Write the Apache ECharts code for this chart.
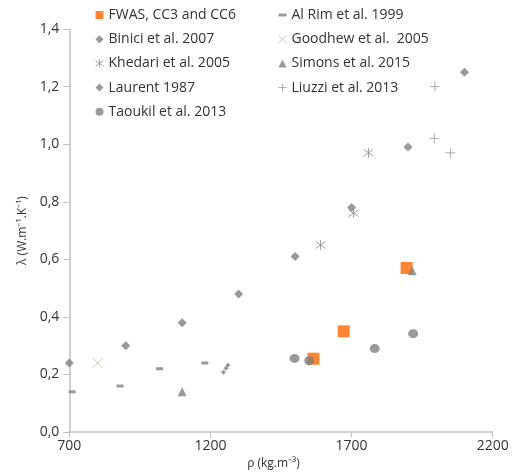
<!DOCTYPE html>
<html>
<head>
<meta charset="utf-8">
<script src="https://cdn.jsdelivr.net/npm/echarts@6/dist/echarts.min.js"></script>
<style>
  html, body { margin: 0; padding: 0; background: #fff; }
  #chart { width: 514px; height: 475px; }
</style>
</head>
<body>
<div id="chart"></div>
<script>
// density (kg/m3) vs thermal conductivity (W/m.K)
var fwas    = [[1565, 0.255], [1672, 0.35], [1895, 0.57]];
var alRim   = [[710, 0.14], [880, 0.16], [1020, 0.22], [1180, 0.24]];
var binici  = [[1262, 0.232], [1255, 0.222], [1246, 0.208]];
var goodhew = [[800, 0.24]];
var khedari = [[1590, 0.65], [1707, 0.76], [1760, 0.97]];
var simons  = [[1100, 0.14], [1915, 0.56]];
var laurent = [[700, 0.24], [900, 0.30], [1100, 0.38], [1300, 0.48], [1500, 0.61], [1700, 0.78], [1900, 0.99], [2100, 1.25]];
var liuzzi  = [[1995, 1.20], [1993, 1.02], [2050, 0.97]];
var taoukil = [[1498, 0.256], [1550, 0.248], [1782, 0.29], [1918, 0.342]];

var xTicks = [700, 1200, 1700, 2200];

var gray = '#7f7f7f';
var ink = '#333333';
var rule = '#bfbfbf';
var font = 'Open Sans';

// line-only marks
var xPath = 'path://M0,0L10,10M10,0L0,10';
var plusPath = 'path://M5,0L5,10M0,5L10,5';
var starPath = 'path://M5,0L5,10M0,1.5L10,8.5M10,1.5L0,8.5';

function filled(color) {
  return { color: color };
}
function stroked(color) {
  return { color: 'none', borderColor: color, borderWidth: 1 };
}

var seriesDefs = [
  { name: 'FWAS, CC3 and CC6', data: fwas, symbol: 'rect', size: 12, style: filled('#ff6600') },
  { name: 'Al Rim et al. 1999', data: alRim, symbol: 'rect', size: [7, 3], style: filled(gray) },
  { name: 'Binici et al. 2007', data: binici, symbol: 'diamond', size: 5, style: filled(gray) },
  { name: 'Goodhew et al.  2005', data: goodhew, symbol: xPath, size: 10, style: stroked('#c4b89a') },
  { name: 'Khedari et al. 2005', data: khedari, symbol: starPath, size: 10, style: stroked('#8c8c8c') },
  { name: 'Simons et al. 2015', data: simons, symbol: 'triangle', size: 9, style: filled(gray) },
  { name: 'Laurent 1987', data: laurent, symbol: 'diamond', size: 9, style: filled(gray) },
  { name: 'Liuzzi et al. 2013', data: liuzzi, symbol: plusPath, size: 10, style: stroked('#9a9a9a') },
  { name: 'Taoukil et al. 2013', data: taoukil, symbol: 'circle', size: [10, 9], style: filled(gray) }
];

function legendItem(d) {
  return {
    name: d.name,
    icon: d.name.indexOf('Al Rim') === 0 ? 'path://M0,3L7,3L7,5.5L0,5.5Z' : d.symbol,
    itemStyle: d.style
  };
}

var leftNames = [0, 2, 4, 6, 8];
var rightNames = [1, 3, 5, 7];

var legendBase = {
  orient: 'vertical',
  padding: 0,
  itemWidth: 8,
  itemHeight: 8,
  itemGap: 10.2,
  textStyle: { color: ink, fontFamily: font, fontSize: 14 },
  selectedMode: false
};

var chart = echarts.init(document.getElementById('chart'), null, { renderer: 'canvas' });

chart.setOption({
  animation: false,
  backgroundColor: '#fff',
  grid: { left: 69.3, right: 21.3, top: 29, bottom: 36 },
  legend: [
    Object.assign({}, legendBase, {
      left: 93, top: 8,
      data: leftNames.map(function (i) { return legendItem(seriesDefs[i]); })
    }),
    Object.assign({}, legendBase, {
      left: 276, top: 8,
      data: rightNames.map(function (i) { return legendItem(seriesDefs[i]); })
    })
  ],
  xAxis: {
    type: 'value',
    min: 700,
    max: 2200,
    interval: 500,
    name: 'ρ (kg.m⁻³)',
    nameLocation: 'middle',
    nameGap: 17,
    nameTextStyle: { color: ink, fontFamily: font, fontSize: 12, padding: [0, 15, 0, 0] },
    axisLine: { lineStyle: { color: rule, width: 1.5 } },
    axisTick: { show: true, length: 5, lineStyle: { color: rule } },
    axisLabel: {
      color: ink, fontFamily: font, fontSize: 14, margin: 7,
      customValues: xTicks,
      formatter: function (v) { return String(v); }
    },
    splitLine: { show: false }
  },
  yAxis: {
    type: 'value',
    min: 0,
    max: 1.4,
    interval: 0.2,
    name: 'λ (W.m⁻¹.K⁻¹)',
    nameLocation: 'middle',
    nameGap: 36,
    nameTextStyle: { color: ink, fontFamily: font, fontSize: 12 },
    axisLine: { show: true, lineStyle: { color: rule, width: 1.5 } },
    axisTick: { show: true, length: 6, lineStyle: { color: rule } },
    axisLabel: {
      color: ink, fontFamily: font, fontSize: 14, margin: 10,
      formatter: function (v) { return v.toFixed(1).replace('.', ','); }
    },
    splitLine: { show: false }
  },
  series: seriesDefs.map(function (d) {
    return {
      name: d.name,
      type: 'scatter',
      data: d.data,
      symbol: d.symbol,
      symbolSize: d.size,
      itemStyle: d.style,
      emphasis: { disabled: true }
    };
  })
});
</script>
</body>
</html>
